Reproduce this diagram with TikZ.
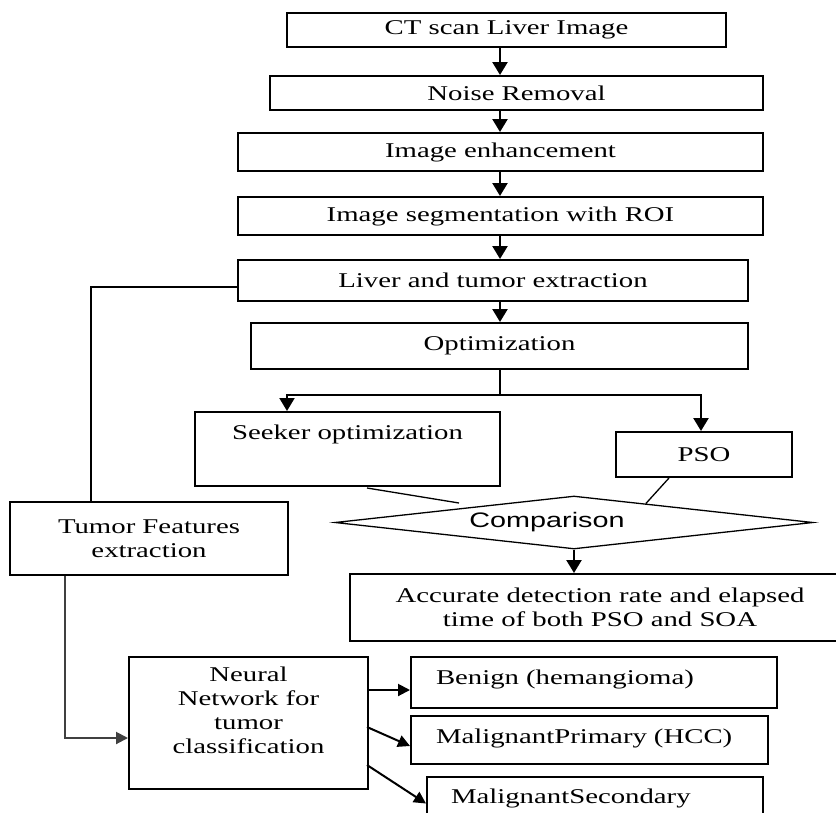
\documentclass[tikz,border=0pt]{standalone}
\usepackage{fontspec}
\setmainfont{Liberation Serif}[FakeStretch=1.37]
\newfontfamily\cmpfont{Liberation Sans}[FakeStretch=1.37]
\usetikzlibrary{arrows.meta,shapes.geometric,calc}

\begin{document}
\begin{tikzpicture}[x=1pt,y=-1pt,line width=2pt,
    every node/.style={font=\fontsize{21}{24}\selectfont},
    stage/.style={draw,inner sep=0pt,align=center},
    leaf/.style={draw,inner ysep=0pt,inner xsep=25pt,align=left},
    flow/.style={line width=2.4pt,-{Triangle[length=13pt,width=15pt]}},
    link/.style={-{Triangle[length=12pt,width=12pt]}},
    thinline/.style={line width=1.3pt}]
\useasboundingbox (0,0) rectangle (836,812);

\node[stage,minimum width=439pt,minimum height=34pt] (ct) at (506.5,30) {CT scan Liver Image};
\node[stage,minimum width=493pt,minimum height=34pt] (noise) at (516.5,93) {Noise Removal};
\node[stage,minimum width=525pt,minimum height=38pt] (enh) at (500.5,152) {Image enhancement};
\node[stage,minimum width=525pt,minimum height=38pt] (seg) at (500.5,216) {Image segmentation with ROI};
\node[stage,minimum width=510pt,minimum height=41pt] (liver) at (493,280.5) {Liver and tumor extraction};
\node[stage,minimum width=497pt,minimum height=46pt] (opt) at (499.5,346) {Optimization};
\node[stage,minimum width=305pt,text height=27pt,text depth=47pt] (seeker) at (347.5,449) {Seeker optimization};
\node[stage,minimum width=176pt,minimum height=45pt] (pso) at (704,454.5) {PSO};
\node[draw,thinline,diamond,aspect=9,inner sep=0pt,minimum width=478pt,minimum height=53pt,
    font=\cmpfont\fontsize{21}{24}\selectfont] (cmp) at (574,522.5) {Comparison\hspace*{54pt}};
\node[stage,minimum width=500pt,minimum height=67pt] (acc) at (600,607.5) {Accurate detection rate and elapsed\\time of both PSO and SOA};
\node[stage,minimum width=278pt,minimum height=73pt] (feat) at (149,538.5) {Tumor Features\\extraction};
\node[stage,minimum width=239pt,minimum height=132pt,text depth=26pt] (nn) at (248.5,723) {Neural\\Network for\\tumor\\classification};
\node[leaf,text width=316pt,text height=27pt,text depth=24pt] (benign) at (594,682.5) {Benign (hemangioma)};
\node[leaf,text width=307pt,text height=27pt,text depth=21pt] (malp) at (589.5,740) {MalignantPrimary (HCC)};
\node[leaf,inner xsep=24pt,text width=288pt,text height=26pt,text depth=27pt] (mals) at (595,803.5) {MalignantSecondary};

\coordinate (spine) at (500,0);
\coordinate (split) at (500,395);
\coordinate (sk) at (287,0);
\coordinate (ps) at (701,0);
\coordinate (ps2) at (669,0);
\coordinate (sk1) at (367,488);
\coordinate (sk2) at (459,503);
\coordinate (fx) at (91,287);
\coordinate (gx) at (65,738);
\coordinate (o1) at (367,690);
\coordinate (o2) at (367,727);
\coordinate (o3) at (367,765);

\foreach \a/\b in {ct/noise,noise/enh,enh/seg,seg/liver,liver/opt}
    \draw[flow] (\a.south -| spine) -- (\b.north -| spine);
\draw (opt.south -| split) -- (split);
\draw[flow,line width=2pt] (split) -| (seeker.north -| sk);
\draw[flow] (split) -| (pso.north -| ps);
\draw[thinline] (sk1) -- (sk2);
\draw[thinline] (pso.south -| ps2) -- ($(cmp.north)!0.3!(cmp.east)$);
\draw[flow] (cmp.south) -- (acc.north -| cmp.south);
\draw (liver.west |- fx) -| (feat.north -| fx);
\draw[link,draw=black!75] (feat.south -| gx) |- (nn.west |- gx);
\draw[link] (o1) -- (benign.west |- o1);
\draw[link] (o2) -- ($(malp.west)+(0,6)$);
\draw[link] (o3) -- (mals.west);
\end{tikzpicture}
\end{document}
